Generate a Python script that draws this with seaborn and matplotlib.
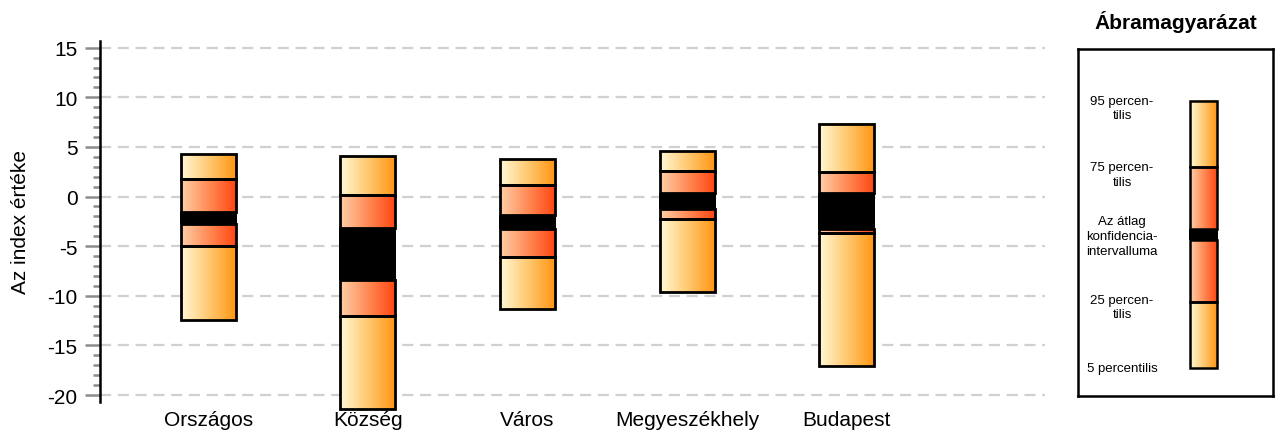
import numpy as np
import matplotlib
matplotlib.use('Agg')
import matplotlib.pyplot as plt
from matplotlib.colors import LinearSegmentedColormap
import seaborn as sns

# Adatok (leolvasva az ábráról)
kategoriak = ['Országos', 'Község', 'Város', 'Megyeszékhely', 'Budapest']
p5 = [-12.4, -21.4, -11.3, -9.6, -17.1]
p25 = [-5.0, -12.0, -6.1, -2.3, -3.65]
ci_also = [-2.8, -8.4, -3.3, -1.25, -3.25]
ci_felso = [-1.6, -3.2, -1.9, 0.4, 0.4]
p75 = [1.8, 0.2, 1.2, 2.6, 2.45]
p95 = [4.3, 4.1, 3.8, 4.6, 7.3]

y_ticks = [-20, -15, -10, -5, 0, 5, 10, 15]

# Jelmagyarázat (relatív szintek a dobozon belül)
leg_szintek = [0.080, 0.271, 0.450, 0.481, 0.660, 0.851]
leg_cimkek = ['5 percentilis', '25 percen-\ntilis', 'Az átlag\nkonfidencia-\nintervalluma',
              '75 percen-\ntilis', '95 percen-\ntilis']
leg_cimke_y = [0.080, 0.256, 0.461, 0.639, 0.830]

sns.set_theme(style='white')
plt.rcParams['font.family'] = ['Liberation Sans', 'DejaVu Sans']
plt.rcParams['text.color'] = 'black'
plt.rcParams['axes.labelcolor'] = 'black'
plt.rcParams['xtick.color'] = 'black'
plt.rcParams['ytick.color'] = 'black'

kulso_cmap = LinearSegmentedColormap.from_list('kulso', ['#fff9d6', '#ffc870', '#ff9410'])
belso_cmap = LinearSegmentedColormap.from_list('belso', ['#ffd0a8', '#ff8a55', '#ff4410'])
grad = np.linspace(0, 1, 256).reshape(1, -1)


def sav(ax, x, w, also, felso, cmap, lw=2):
    ax.imshow(grad, cmap=cmap, extent=(x - w / 2, x + w / 2, also, felso),
              aspect='auto', origin='lower', clip_on=False, zorder=3)
    ax.add_patch(plt.Rectangle((x - w / 2, also), w, felso - also, fill=False,
                               edgecolor='black', lw=lw, clip_on=False, zorder=4))


def doboz(ax, x, w, v, lw=2):
    # v: p5, p25, ci_also, ci_felso, p75, p95
    sav(ax, x, w, v[0], v[1], kulso_cmap, lw)
    sav(ax, x, w, v[1], v[2], belso_cmap, lw)
    sav(ax, x, w, v[3], v[4], belso_cmap, lw)
    sav(ax, x, w, v[4], v[5], kulso_cmap, lw)
    ax.add_patch(plt.Rectangle((x - w / 2 - 0.006, v[2]), w + 0.012, v[3] - v[2],
                               facecolor='black', lw=0, clip_on=False, zorder=5))


fig = plt.figure(figsize=(12.76, 4.35), dpi=100)
ax = fig.add_axes([0.0784, 0.0736, 0.7405, 0.8305])

w = 0.345
for i in range(len(kategoriak)):
    doboz(ax, i, w, [p5[i], p25[i], ci_also[i], ci_felso[i], p75[i], p95[i]])

ax.set_xlim(-0.677, 5.24)
ax.set_ylim(-20.7, 15.7)
ax.set_xticks(range(len(kategoriak)))
ax.set_xticklabels(kategoriak, fontsize=15)
ax.set_yticks(y_ticks)
ax.set_yticklabels([str(t) for t in y_ticks], fontsize=15)
ax.set_yticks(np.arange(-20, 16, 1), minor=True)
ax.tick_params(axis='y', which='major', left=True, length=10.8, width=1.8, color='#8c8c8c', pad=5.5)
ax.tick_params(axis='y', which='minor', left=True, length=5, width=1.8, color='#8c8c8c')
ax.tick_params(axis='x', bottom=False, length=0, pad=6)
for t in y_ticks:
    ax.axhline(t, color='#d0d0d0', lw=1.6, ls=(0, (5, 3)), zorder=1)
for s in ['top', 'right', 'bottom']:
    ax.spines[s].set_visible(False)
ax.spines['left'].set_linewidth(1.8)
ax.spines['left'].set_color('black')
ax.set_ylabel('Az index értéke', fontsize=15, labelpad=12)

# Ábramagyarázat
lax = fig.add_axes([1078 / 1276, 38.3 / 435, 195 / 1276, 346.7 / 435])
lax.set_xlim(0, 1)
lax.set_ylim(0, 1)
lax.set_xticks([])
lax.set_yticks([])
for s in lax.spines.values():
    s.set_linewidth(1.8)
    s.set_color('black')
doboz(lax, 0.643, 0.139, leg_szintek, lw=1.8)
lax.set_aspect('auto')
for y, txt in zip(leg_cimke_y, leg_cimkek):
    lax.text(0.226, y, txt, ha='center', va='center', fontsize=9.5, linespacing=1.3)
fig.text(1176 / 1276, 1 - 22 / 435, 'Ábramagyarázat', ha='center', va='center',
         fontsize=15, fontweight='bold')

plt.savefig('out.png', dpi=100)
